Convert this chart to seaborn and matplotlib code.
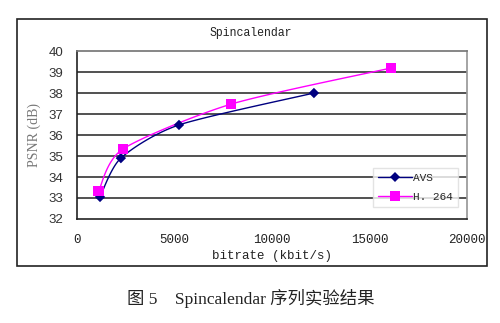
import numpy as np
import pandas as pd
import matplotlib
matplotlib.use("Agg")
import matplotlib.pyplot as plt
import seaborn as sns
from matplotlib.lines import Line2D
from matplotlib.patches import Rectangle

# Data
avs_bitrate = [1180, 2250, 5230, 12150]
avs_psnr = [33.05, 34.90, 36.48, 38.00]
h264_bitrate = [1110, 2350, 7900, 16100]
h264_psnr = [33.33, 35.33, 37.47, 39.19]
series_names = ["AVS", "H. 264"]
x_ticks = [0, 5000, 10000, 15000, 20000]
y_ticks = [32, 33, 34, 35, 36, 37, 38, 39, 40]

sns.set_theme(style="white")
plt.rcParams['font.family'] = ['DejaVu Sans']

df = pd.concat([
    pd.DataFrame({"bitrate": avs_bitrate, "psnr": avs_psnr, "codec": series_names[0]}),
    pd.DataFrame({"bitrate": h264_bitrate, "psnr": h264_psnr, "codec": series_names[1]}),
])

colors = {"AVS": "#000080", "H. 264": "#FF00FF"}
markers = {"AVS": "D", "H. 264": "s"}
sizes = {"AVS": 28, "H. 264": 55}

fig = plt.figure(figsize=(5.0, 3.23), dpi=100)
fig.patch.set_facecolor("white")
ax = fig.add_axes([0.154, 0.322, 0.78, 0.52])


def smooth(xs, ys, sx=20000.0, sy=8.0 * 0.65, k=8.0):
    # Bezier smoothing (Excel-style "smoothed line") through the given data points
    P = np.column_stack([np.asarray(xs) / sx, np.asarray(ys) / sy])
    n = len(P)
    out = []
    t = np.linspace(0, 1, 40)[:, None]
    for i in range(n - 1):
        p0 = P[max(i - 1, 0)]
        p1 = P[i]
        p2 = P[i + 1]
        p3 = P[min(i + 2, n - 1)]
        c1 = p1 + (p2 - p0) / k
        c2 = p2 - (p3 - p1) / k
        seg = ((1 - t) ** 3) * p1 + 3 * ((1 - t) ** 2) * t * c1 + 3 * (1 - t) * t ** 2 * c2 + t ** 3 * p2
        out.append(seg)
    C = np.vstack(out)
    return C[:, 0] * sx, C[:, 1] * sy


for name, (xs, ys) in zip(series_names, [(avs_bitrate, avs_psnr), (h264_bitrate, h264_psnr)]):
    cx, cy = smooth(xs, ys)
    ax.plot(cx, cy, color=colors[name], lw=1.0, zorder=3)
    sub = df[df["codec"] == name]
    sns.scatterplot(data=sub, x="bitrate", y="psnr", color=colors[name], marker=markers[name],
                    s=sizes[name], edgecolor="none", legend=False, ax=ax, zorder=4)

ax.set_xlim(0, 20000)
ax.set_ylim(32, 40)
ax.set_xticks(x_ticks)
ax.set_yticks(y_ticks)
ax.set_xticklabels([str(v) for v in x_ticks], fontsize=9, color="#222222", family="Liberation Mono")
ax.set_yticklabels([str(v) for v in y_ticks], fontsize=9.5, color="#333333", family="Liberation Sans")
ax.tick_params(axis="x", direction="in", length=4, width=1, color="#333333", pad=11)
ax.tick_params(axis="y", length=0, pad=10)
for y in y_ticks[1:-1]:
    ax.axhline(y, color="#222222", lw=1.1, zorder=1)

ax.spines["left"].set_color("#222222")
ax.spines["bottom"].set_color("#222222")
ax.spines["left"].set_linewidth(1.2)
ax.spines["bottom"].set_linewidth(1.2)
ax.spines["top"].set_color("#777777")
ax.spines["right"].set_color("#999999")

ax.set_xlabel("bitrate (kbit/s)", fontsize=9, family="Liberation Mono", color="#222222", labelpad=3)
ax.set_ylabel("PSNR (dB)", fontsize=10, family="Liberation Serif", color="#777777", labelpad=5)

fig.text(0.502, 0.898, "Spincalendar", ha="center", va="center", fontsize=8.3,
         family="Liberation Mono", color="#222222")

handles = [Line2D([0], [0], color=colors[n], marker=markers[n], markersize=5.5 if n == "AVS" else 7.5,
                  lw=1.0, markeredgewidth=0) for n in series_names]
leg = ax.legend(handles, series_names, loc="lower right", bbox_to_anchor=(0.99, 0.04),
                frameon=True, fancybox=False, handlelength=3,
                prop={"family": "Liberation Mono", "size": 8}, borderpad=0.45, labelspacing=0.8,
                handletextpad=0.1)
leg.get_frame().set_edgecolor("#dddddd")
leg.get_frame().set_facecolor("white")

# outer chart frame
fig.patches.append(Rectangle((0.034, 0.176), 0.94, 0.765, transform=fig.transFigure,
                             fill=False, edgecolor="#222222", lw=1.2))

fig.text(0.502, 0.077, "图 5    Spincalendar 序列实验结果", ha="center", va="center",
         fontsize=12.5, family=["Liberation Serif", "Noto Sans CJK SC"], color="#222222")

fig.savefig("out.png", dpi=100, facecolor="white")
